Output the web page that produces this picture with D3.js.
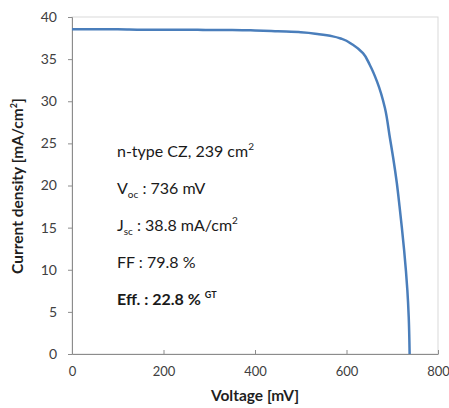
<!DOCTYPE html>
<html>
<head>
<meta charset="utf-8">
<script src="https://cdn.jsdelivr.net/npm/d3@7"></script>
<style>
  body { margin: 0; background: #fff; }
  text { font-family: Lato, "Open Sans", sans-serif; }
</style>
</head>
<body>
<svg id="chart" width="449" height="408"></svg>
<script>
// I-V curve
const voltage = [0, 50, 100, 150, 200, 250, 300, 350, 400, 450, 500, 540, 570, 590, 614, 636, 651, 667, 684, 695, 702, 710, 716, 721, 726, 730, 733, 736, 738];
const current = [38.55, 38.55, 38.55, 38.5, 38.5, 38.5, 38.45, 38.45, 38.4, 38.3, 38.2, 37.95, 37.7, 37.4, 36.7, 35.7, 34.3, 32.3, 29.2, 25.6, 23.3, 20.3, 17.5, 15.0, 12.3, 9.8, 7.6, 4.4, 0];
const xTicks = [0, 200, 400, 600, 800];
const yTicks = [0, 5, 10, 15, 20, 25, 30, 35, 40];

const svg = d3.select("#chart");
const mLeft = 72, mRight = 438, mTop = 17, mBottom = 354;

const x = d3.scaleLinear().domain([0, 800]).range([mLeft, mRight]);
const y = d3.scaleLinear().domain([0, 40]).range([mBottom, mTop]);

// frame
svg.append("rect")
  .attr("x", mLeft).attr("y", mTop)
  .attr("width", mRight - mLeft).attr("height", mBottom - mTop)
  .attr("fill", "none").attr("stroke", "#d9d9d9").attr("stroke-width", 1);

// y axis
const yAxis = svg.append("g")
  .attr("transform", `translate(${mLeft},0)`)
  .call(d3.axisLeft(y).tickValues(yTicks).tickSize(4).tickPadding(11));
yAxis.select(".domain").attr("stroke", "#8c8c8c");
yAxis.selectAll(".tick line").attr("stroke", "#8c8c8c");
yAxis.selectAll(".tick text")
  .attr("fill", "#404040").attr("font-size", 14)
  .style("font-family", "Lato, sans-serif");

// x axis, ticks point up into the plot
const xAxis = svg.append("g")
  .attr("transform", `translate(0,${mBottom})`)
  .call(d3.axisBottom(x).tickValues(xTicks).tickSizeInner(-4).tickSizeOuter(0).tickPadding(13));
xAxis.select(".domain").attr("stroke", "#8c8c8c");
xAxis.selectAll(".tick line").attr("stroke", "#8c8c8c");
xAxis.selectAll(".tick text")
  .attr("fill", "#404040").attr("font-size", 13)
  .style("font-family", "Lato, sans-serif");

// curve
const line = d3.line()
  .x((d, i) => x(voltage[i]))
  .y(d => y(d))
  .curve(d3.curveMonotoneY);
svg.append("path")
  .attr("d", line(current))
  .attr("fill", "none")
  .attr("stroke", "#4a7ebb")
  .attr("stroke-width", 2.5);

// axis titles
svg.append("text")
  .attr("x", 255).attr("y", 401)
  .attr("text-anchor", "middle")
  .attr("font-size", 15.5).attr("font-weight", "bold")
  .attr("fill", "#1f1f1f")
  .text("Voltage [mV]");

const yt = svg.append("text")
  .attr("transform", "translate(23,186) rotate(-90)")
  .attr("text-anchor", "middle")
  .attr("font-size", 15.5).attr("font-weight", "bold")
  .attr("fill", "#1f1f1f");
yt.append("tspan").text("Current density [mA/cm");
yt.append("tspan").attr("font-size", 9).attr("dy", -6).text("2");
yt.append("tspan").attr("dy", 6).text("]");

// annotation block
const tx = 117, fs = 16, gap = 37;
const t1 = svg.append("text").attr("x", tx).attr("y", 157).attr("font-size", fs).attr("fill", "#1a1a1a");
t1.append("tspan").text("n-type CZ, 239 cm");
t1.append("tspan").attr("font-size", 10).attr("dy", -7).text("2");

const t2 = svg.append("text").attr("x", tx).attr("y", 157 + gap).attr("font-size", fs).attr("fill", "#1a1a1a");
t2.append("tspan").text("V");
t2.append("tspan").attr("font-size", 10).attr("dy", 4).text("oc");
t2.append("tspan").attr("dy", -4).text(" : 736 mV");

const t3 = svg.append("text").attr("x", tx).attr("y", 157 + gap * 2).attr("font-size", fs).attr("fill", "#1a1a1a");
t3.append("tspan").text("J");
t3.append("tspan").attr("font-size", 10).attr("dy", 4).text("sc");
t3.append("tspan").attr("dy", -4).text(" : 38.8 mA/cm");
t3.append("tspan").attr("font-size", 10).attr("dy", -7).text("2");

svg.append("text").attr("x", tx).attr("y", 157 + gap * 3).attr("font-size", fs).attr("fill", "#1a1a1a")
  .text("FF : 79.8 %");

const t5 = svg.append("text").attr("x", tx).attr("y", 157 + gap * 4).attr("font-size", fs)
  .attr("font-weight", "bold").attr("fill", "#1a1a1a");
t5.append("tspan").text("Eff. : 22.8 % ");
t5.append("tspan").attr("font-size", 9).attr("dy", -7).text("GT");
</script>
</body>
</html>
